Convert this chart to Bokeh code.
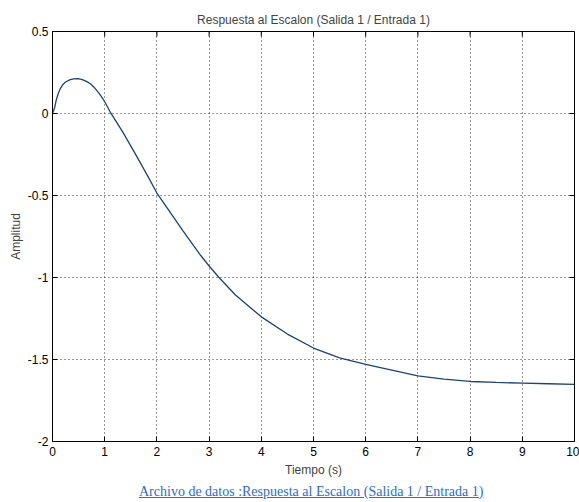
from bokeh.plotting import figure
from bokeh.models import FixedTicker, Range1d, Div
from bokeh.layouts import column
from bokeh.embed import file_html
from bokeh.resources import INLINE

# ---- data ----
tiempo = [0, 0.04, 0.07, 0.11, 0.15, 0.2, 0.25, 0.33, 0.4, 0.49, 0.57,
          0.65, 0.73, 0.81, 0.89, 0.97, 1.03, 1.1, 1.35, 1.57, 1.82, 2.0,
          2.5, 2.84, 3.0, 3.19, 3.5, 4.0, 4.5, 5.0, 5.5, 6.0, 6.5, 7.0,
          7.5, 8.0, 8.5, 9.0, 9.5, 10.0]
amplitud = [0, 0.035, 0.08, 0.122, 0.152, 0.177, 0.192, 0.205, 0.211, 0.213,
            0.207, 0.196, 0.18, 0.155, 0.124, 0.087, 0.055, 0.012, -0.115,
            -0.237, -0.379, -0.485, -0.715, -0.866, -0.93, -1.0, -1.105,
            -1.24, -1.345, -1.43, -1.49, -1.53, -1.565, -1.60, -1.62, -1.634,
            -1.64, -1.644, -1.648, -1.652]

x_ticks = [0, 1, 2, 3, 4, 5, 6, 7, 8, 9, 10]
x_tick_labels = ["0", "1", "2", "3", "4", "5", "6", "7", "8", "9", "10"]
y_ticks = [-2, -1.5, -1, -0.5, 0, 0.5]
y_tick_labels = ["-2", "-1.5", "-1", "-0.5", "0", "0.5"]

title_text = "Respuesta al Escalon (Salida 1 / Entrada 1)"
link_text = "Archivo de datos :Respuesta al Escalon (Salida 1 / Entrada 1)"

FONT = "Liberation Sans"
X0, X1, Y0, Y1 = 0, 10, -2, 0.5

p = figure(width=579, height=478, output_backend="svg", toolbar_location=None,
           x_range=Range1d(X0, X1), y_range=Range1d(Y0, Y1),
           x_axis_label="Tiempo (s)", y_axis_label="Amplitud",
           frame_width=522, frame_height=410,
           min_border_left=52, min_border_right=5, min_border_top=31,
           min_border_bottom=37)

p.title.text = title_text
p.title.align = "center"
p.title.text_font = FONT
p.title.text_font_size = "12px"
p.title.text_font_style = "normal"
p.title.offset = 0
p.title.standoff = 9

p.background_fill_color = "white"
p.border_fill_color = "white"
p.outline_line_color = "black"
p.outline_line_width = 1

for ax, ticks, labels in ((p.xaxis[0], x_ticks, x_tick_labels),
                          (p.yaxis[0], y_ticks, y_tick_labels)):
    ax.ticker = FixedTicker(ticks=ticks)
    ax.major_label_overrides = {t: l for t, l in zip(ticks, labels)}
    ax.minor_tick_line_color = None
    ax.major_tick_in = 5
    ax.major_tick_out = 0
    ax.major_label_text_font = FONT
    ax.major_label_text_font_size = "12px"
    ax.major_label_text_color = "black"
    ax.axis_label_text_font = FONT
    ax.axis_label_text_font_size = "12px"
    ax.axis_label_text_font_style = "normal"
    ax.axis_line_color = "black"

p.xaxis.major_label_standoff = 5
p.xaxis.axis_label_standoff = 4
p.yaxis.major_label_standoff = 4
p.yaxis.axis_label_standoff = 2

p.xgrid.ticker = FixedTicker(ticks=x_ticks)
p.ygrid.ticker = FixedTicker(ticks=y_ticks)
p.grid.grid_line_color = "black"
p.grid.grid_line_alpha = 0.8
p.grid.grid_line_dash = "1 3"
p.grid.grid_line_width = 1

# inward tick marks on the top and right edges (MATLAB box style)
tick_dy = 5 / 164.0 * (Y1 - Y0) / 2.5
tick_dx = 5 / 52.2 * (X1 - X0) / 10
p.segment(x0=x_ticks, y0=[Y1] * len(x_ticks), x1=x_ticks,
          y1=[Y1 - tick_dy] * len(x_ticks), line_color="black", line_width=1)
p.segment(x0=[X1] * len(y_ticks), y0=y_ticks, x1=[X1 - tick_dx] * len(y_ticks),
          y1=y_ticks, line_color="black", line_width=1)

p.line(tiempo, amplitud, line_color="#1d4470", line_width=1.3)

# link-style caption below the chart
LINK = "#2f6bd0"
caption = Div(
    text=('<span style="font-family: \'Liberation Serif\', serif; '
          'font-size: 14px; color: %s; text-decoration: underline; '
          'white-space: nowrap;">%s</span>' % (LINK, link_text)),
    width=579, height=24,
    styles={"padding-left": "134px", "line-height": "16px",
            "box-sizing": "border-box", "overflow": "hidden"})

layout = column(p, caption, spacing=0)
open("out.html", "w").write(file_html(layout, INLINE))
